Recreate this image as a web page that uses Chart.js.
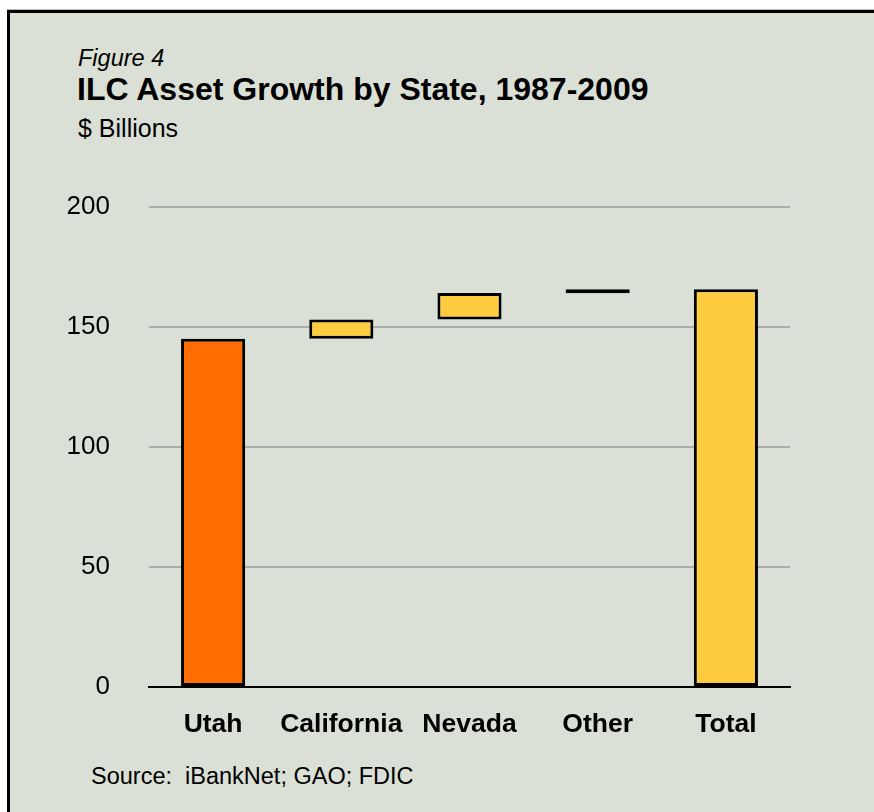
<!DOCTYPE html>
<html>
<head>
<meta charset="utf-8">
<script src="https://cdn.jsdelivr.net/npm/chart.js@4.4.1/dist/chart.umd.min.js"></script>
<style>
  html, body { margin: 0; padding: 0; background: #ffffff; width: 874px; height: 812px; overflow: hidden; }
  #frame { position: absolute; left: 7px; top: 10px; width: 900px; height: 850px; background: #DBE0D6;
           border-top: 3px solid #000; border-left: 3px solid #000; box-shadow: 0 -1px 0 #bbb; }
  .t { position: absolute; font-family: "Liberation Sans", Arial, Helvetica, sans-serif; line-height: 1; color: #000; white-space: pre; }
  #fig { left: 78px; top: 47px; font-size: 23.5px; font-style: italic; }
  #title { left: 77px; top: 73px; font-size: 32px; font-weight: bold; }
  #sub { left: 78px; top: 116px; font-size: 25px; }
  #src { left: 91px; top: 765px; font-size: 23.5px; }
  #wrap { position: absolute; left: 0; top: 152px; width: 874px; height: 618px; }
</style>
</head>
<body>
<div id="frame"></div>
<div class="t" id="fig">Figure 4</div>
<div class="t" id="title">ILC Asset Growth by State, 1987-2009</div>
<div class="t" id="sub">$ Billions</div>
<div class="t" id="src">Source:  iBankNet; GAO; FDIC</div>
<div id="wrap"><canvas id="c"></canvas></div>
<script>
const categories = ['Utah', 'California', 'Nevada', 'Other', 'Total'];
const barStart = [0, 145, 153, 163.9, 0];
const barEnd = [145, 153, 164, 165.6, 165.6];
const barColors = ['#FF6C00', '#FFCB3F', '#FFCB3F', '#FFCB3F', '#FFCB3F'];
const yTicks = [0, 50, 100, 150, 200];

const ranges = categories.map((c, i) => [barStart[i], barEnd[i]]);

new Chart(document.getElementById('c'), {
  type: 'bar',
  data: {
    labels: categories,
    datasets: [{
      data: ranges,
      backgroundColor: barColors,
      borderColor: '#000000',
      borderWidth: 3,
      borderSkipped: false,
      barPercentage: 0.5,
      categoryPercentage: 1.0
    }]
  },
  options: {
    responsive: true,
    maintainAspectRatio: false,
    animation: false,
    layout: { padding: { top: 17, right: 84, bottom: 0, left: 0 } },
    plugins: { legend: { display: false }, tooltip: { enabled: false }, title: { display: false } },
    scales: {
      x: {
        grid: { display: false, drawTicks: false },
        border: { display: true, color: '#000000', width: 2 },
        ticks: { color: '#000', padding: 22, autoSkip: false, maxRotation: 0, minRotation: 0,
                 font: { family: '"Liberation Sans", Arial, sans-serif', size: 26.5, weight: 'bold' } },
        afterFit: (s) => { s.height = 83; }
      },
      y: {
        min: 0, max: 200,
        afterBuildTicks: (s) => { s.ticks = yTicks.map(v => ({ value: v })); },
        grid: { color: (ctx) => ctx.tick && ctx.tick.value === 0 ? 'rgba(0,0,0,0)' : '#ABABAB', lineWidth: 2, drawTicks: false },
        border: { display: false },
        ticks: { color: '#000', padding: 39, font: { family: '"Liberation Sans", Arial, sans-serif', size: 26 } },
        afterFit: (s) => { s.width = 149; }
      }
    }
  }
});
</script>
</body>
</html>
